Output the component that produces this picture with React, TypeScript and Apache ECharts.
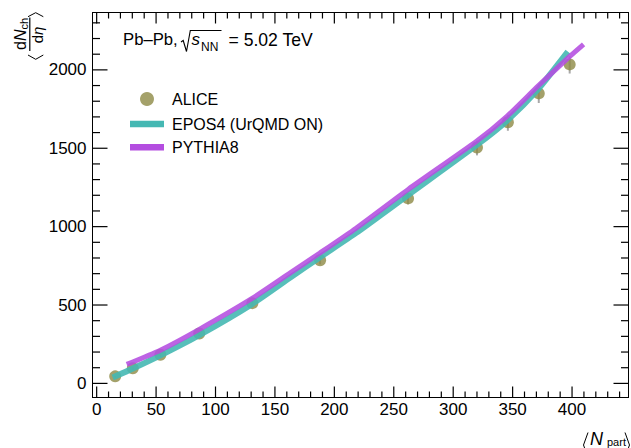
import React, { useEffect, useRef } from 'react';
import * as echarts from 'echarts';

const FONT = '"Liberation Sans", Arial, Helvetica, sans-serif';

// ALICE data
const aliceNpart = [398, 372, 346, 320, 262, 188, 131, 86.3, 53.6, 30.4, 15.6];
const aliceVal = [2035, 1850, 1666, 1505, 1180, 786, 512, 318, 183, 96.3, 44.9];
const aliceErr = [52, 55, 48, 44, 31, 20, 15, 12, 8, 5.8, 3.4];

// EPOS4 (UrQMD ON)
const eposNpart = [13.5, 30.4, 53.6, 86.3, 130.3, 162.9, 187.9, 218.3, 262.6, 319.9, 345, 371.8, 396.5];
const eposVal = [38, 95, 179, 308, 504, 675, 805, 960, 1205, 1521, 1674, 1880, 2116];

// PYTHIA8
const pyNpart = [25.3, 53.6, 86.4, 130.8, 162.9, 187.5, 218.3, 262.6, 319.9, 345, 371.8, 397.8, 409.7];
const pyVal = [121, 212, 345, 542, 705, 830, 990, 1240, 1546, 1702, 1900, 2084, 2163];

// axes
const X_MIN = -3.5;
const X_MAX = 447.5;
const Y_MIN = -90;
const Y_MAX = 2366;
const xMajor = [0, 50, 100, 150, 200, 250, 300, 350, 400];
const xMinor = [10, 20, 30, 40, 60, 70, 80, 90, 110, 120, 130, 140, 160, 170, 180, 190, 210, 220, 230, 240, 260, 270, 280, 290, 310, 320, 330, 340, 360, 370, 380, 390, 410, 420, 430, 440];
const yMajor = [0, 500, 1000, 1500, 2000];
const yMinor = [100, 200, 300, 400, 600, 700, 800, 900, 1100, 1200, 1300, 1400, 1600, 1700, 1800, 1900, 2100, 2200, 2300];

const C_ALICE = '#8d8945';
const C_EPOS = '#45b8b3';
const C_PY = '#b44de0';

function mkX(position: string, label: boolean) {
  return {
    type: 'value', position, min: X_MIN, max: X_MAX, gridIndex: 0,
    axisLine: { show: true, onZero: false, lineStyle: { color: '#000', width: 1 } },
    axisTick: { show: false },
    axisLabel: label
      ? { show: true, customValues: xMajor, fontSize: 17, fontFamily: FONT, color: '#000', margin: 3, formatter: (v: number) => String(v) }
      : { show: false },
    splitLine: { show: false },
  };
}
function mkY(position: string, label: boolean) {
  return {
    type: 'value', position, min: Y_MIN, max: Y_MAX, gridIndex: 0,
    axisLine: { show: true, onZero: false, lineStyle: { color: '#000', width: 1 } },
    axisTick: { show: false },
    axisLabel: label
      ? { show: true, customValues: yMajor, fontSize: 17, fontFamily: FONT, color: '#000', margin: 6, formatter: (v: number) => String(v) }
      : { show: false },
    splitLine: { show: false },
  };
}

const baseGraphic: any[] = [
  // annotation
  { id: 'a1', type: 'text', x: 123, y: 39.7, style: { text: 'Pb–Pb,', fontSize: 16.7, fontFamily: FONT, fill: '#000', verticalAlign: 'middle', align: 'left' } },
  { id: 'a2', type: 'polyline', shape: { points: [[181, 42], [183.2, 40.5], [186.5, 51.5], [190.3, 30.5], [221.5, 30.5]] }, style: { stroke: '#000', lineWidth: 1.1, fill: null } },
  { id: 'a3', type: 'text', x: 191.5, y: 39.7, style: { text: 's', fontSize: 17, fontStyle: 'italic', fontFamily: FONT, fill: '#000', verticalAlign: 'middle', align: 'left' } },
  { id: 'a4', type: 'text', x: 201, y: 46.7, style: { text: 'NN', fontSize: 12, fontFamily: FONT, fill: '#000', verticalAlign: 'middle', align: 'left' } },
  { id: 'a5', type: 'text', x: 228.5, y: 39.7, style: { text: '= 5.02 TeV', fontSize: 17.6, fontFamily: FONT, fill: '#000', verticalAlign: 'middle', align: 'left' } },
  // x title
  { id: 'x1', type: 'polyline', shape: { points: [[588, 432.5], [583.5, 445], [588, 457.5]] }, style: { stroke: '#000', lineWidth: 1, fill: null } },
  { id: 'x2', type: 'text', x: 590, y: 438.5, style: { text: 'N', fontSize: 18, fontStyle: 'italic', fontFamily: FONT, fill: '#000', verticalAlign: 'middle', align: 'left' } },
  { id: 'x3', type: 'text', x: 607, y: 442, style: { text: 'part', fontSize: 11, fontFamily: FONT, fill: '#000', verticalAlign: 'middle', align: 'left' } },
  { id: 'x4', type: 'polyline', shape: { points: [[625, 432.5], [629.5, 445], [625, 457.5]] }, style: { stroke: '#000', lineWidth: 1, fill: null } },
  // y title (rotated)
  {
    id: 'ytitle', type: 'group', x: 29, y: 35, rotation: Math.PI / 2,
    children: [
      { type: 'polyline', shape: { points: [[-20, -1], [-24.3, 6.7], [-20, 14.3]] }, style: { stroke: '#000', lineWidth: 1, fill: null } },
      { type: 'polyline', shape: { points: [[18.3, -1], [22.3, 6.7], [18.3, 14.3]] }, style: { stroke: '#000', lineWidth: 1, fill: null } },
      { type: 'text', x: -15, y: -8.2, style: { text: '{a|d}{b|N}', rich: { a: { fontSize: 16, fontFamily: FONT }, b: { fontSize: 16, fontFamily: FONT, fontStyle: 'italic' } }, fill: '#000', verticalAlign: 'middle', align: 'left' } },
      { type: 'text', x: 5.5, y: -5, style: { text: 'ch', fontSize: 11, fontFamily: FONT, fill: '#000', verticalAlign: 'middle', align: 'left' } },
      { type: 'line', shape: { x1: -16, y1: 0.8, x2: 17.5, y2: 0.8 }, style: { stroke: '#000', lineWidth: 1.2 } },
      { type: 'text', x: 0, y: 8.5, style: { text: '{a|d}{b|η}', rich: { a: { fontSize: 15, fontFamily: FONT }, b: { fontSize: 15, fontFamily: FONT, fontStyle: 'italic' } }, fill: '#000', verticalAlign: 'middle', align: 'center' } },
    ],
  },
];

export default function App() {
  const ref = useRef<HTMLDivElement>(null);
  useEffect(() => {
    if (!ref.current) return;
    const chart = echarts.init(ref.current, null, { renderer: 'svg' });
    const aliceData = aliceNpart.map((n, i) => [n, aliceVal[i]]);
    const errData = aliceNpart.map((n, i) => [n, aliceVal[i], aliceErr[i]]);
    const eposData = eposNpart.map((n, i) => [n, eposVal[i]]);
    const pyData = pyNpart.map((n, i) => [n, pyVal[i]]);

    const legendText = { fontSize: 16, fontFamily: FONT, color: '#000', padding: [0, 0, 0, 3] };

    const option: any = {
      animation: false,
      grid: { left: 92.5, top: 12.5, right: 2.5, bottom: 50.5, containLabel: false },
      xAxis: [mkX('bottom', true), mkX('top', false)],
      yAxis: [mkY('left', true), mkY('right', false)],
      legend: [
        {
          left: 140, top: 91, padding: 0, orient: 'vertical', itemWidth: 34, itemHeight: 14,
          data: [{ name: 'ALICE', icon: 'circle' }], textStyle: legendText, selectedMode: false,
        },
        {
          left: 130, top: 116, padding: 0, orient: 'vertical', itemWidth: 34, itemHeight: 6.5,
          data: [{ name: 'EPOS4 (UrQMD ON)', icon: 'rect' }], textStyle: legendText, selectedMode: false,
        },
        {
          left: 130, top: 139.3, padding: 0, orient: 'vertical', itemWidth: 34, itemHeight: 6.5,
          data: [{ name: 'PYTHIA8', icon: 'rect' }], textStyle: legendText, selectedMode: false,
        },
      ],
      series: [
        {
          name: 'ALICE err', type: 'custom', xAxisIndex: 0, yAxisIndex: 0, data: errData,
          encode: { x: 0, y: 1 },
          renderItem: (params: any, api: any) => {
            const x = api.value(0), y = api.value(1), e = api.value(2);
            const p1 = api.coord([x, y - e]);
            const p2 = api.coord([x, y + e]);
            return {
              type: 'line',
              shape: { x1: p1[0], y1: p1[1] + 1, x2: p2[0], y2: p2[1] },
              style: { stroke: '#a8a8a8', lineWidth: 2 },
            };
          },
        },
        {
          name: 'ALICE', type: 'scatter', xAxisIndex: 0, yAxisIndex: 0, data: aliceData,
          symbol: 'circle', symbolSize: 12, itemStyle: { color: C_ALICE },
        },
        {
          name: 'EPOS4 (UrQMD ON)', type: 'line', xAxisIndex: 0, yAxisIndex: 0, data: eposData,
          symbol: 'none', smooth: 0.2, itemStyle: { color: C_EPOS },
          lineStyle: { color: C_EPOS, width: 6, opacity: 0.9, cap: 'butt' },
        },
        {
          name: 'PYTHIA8', type: 'line', xAxisIndex: 0, yAxisIndex: 0, data: pyData,
          symbol: 'none', smooth: 0.2, itemStyle: { color: C_PY },
          lineStyle: { color: C_PY, width: 5, opacity: 0.88, cap: 'butt' },
        },
      ],
      graphic: { elements: baseGraphic },
    };
    chart.setOption(option);

    // inner frame ticks, positioned through the axes' own scales
    const ticks: any[] = [];
    const px = (x: number, y: number) => chart.convertToPixel({ gridIndex: 0 } as any, [x, y]) as number[];
    const add = (id: string, x1: number, y1: number, x2: number, y2: number) =>
      ticks.push({ id, type: 'line', silent: true, z: 10, shape: { x1, y1, x2, y2 }, style: { stroke: '#000', lineWidth: 1.2 } });
    const xt: [number, number][] = [...xMajor.map((v) => [v, 11] as [number, number]), ...xMinor.map((v) => [v, 6] as [number, number])];
    const yt: [number, number][] = [...yMajor.map((v) => [v, 15] as [number, number]), ...yMinor.map((v) => [v, 7.5] as [number, number])];
    xt.forEach(([v, len], i) => {
      const b = px(v, Y_MIN);
      const t = px(v, Y_MAX);
      add('xb' + i, b[0], b[1], b[0], b[1] - len);
      add('xt' + i, t[0], t[1], t[0], t[1] + len);
    });
    yt.forEach(([v, len], i) => {
      const l = px(X_MIN, v);
      const r = px(X_MAX, v);
      add('yl' + i, l[0], l[1], l[0] + len, l[1]);
      add('yr' + i, r[0], r[1], r[0] - len, r[1]);
    });
    chart.setOption({ graphic: { elements: [...baseGraphic, ...ticks] } });

    return () => chart.dispose();
  }, []);
  return <div ref={ref} style={{ position: 'absolute', left: 0, top: 0, width: 631, height: 448 }} />;
}
